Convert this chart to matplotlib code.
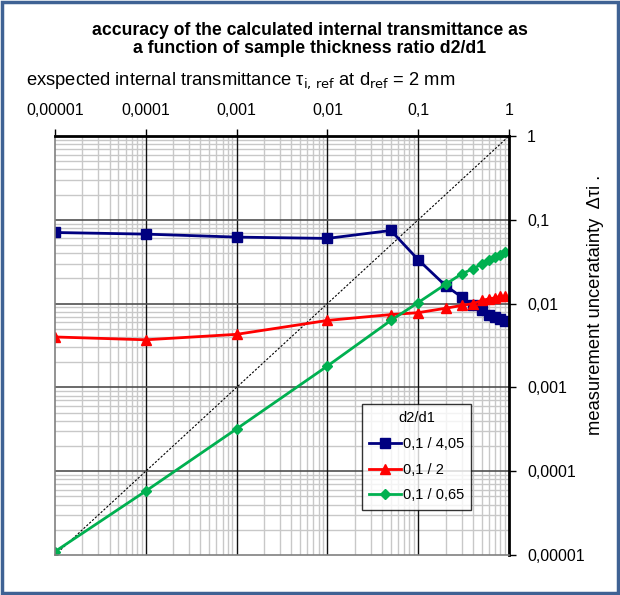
import numpy as np
import matplotlib
matplotlib.use('Agg')
import matplotlib.pyplot as plt
from matplotlib.patches import Rectangle
from matplotlib.ticker import FixedLocator, FixedFormatter, LogLocator, NullFormatter

plt.rcParams['font.family'] = ['Liberation Sans', 'DejaVu Sans']

# data
x_blue = [1e-5, 1e-4, 1e-3, 1e-2, 0.05, 0.1, 0.2, 0.3, 0.4, 0.5, 0.6, 0.7, 0.8, 0.9]
y_blue = [0.0706, 0.0675, 0.0622, 0.060, 0.0746, 0.0334, 0.0164, 0.012, 0.0095,
          0.0083, 0.0074, 0.0069, 0.0066, 0.0062]

x_red = [1e-5, 1e-4, 1e-3, 1e-2, 0.05, 0.1, 0.2, 0.3, 0.4, 0.5, 0.6, 0.7, 0.8, 0.9]
y_red = [0.0040, 0.0037, 0.0043, 0.0063, 0.0074, 0.0078, 0.0088, 0.0095, 0.0100,
         0.0109, 0.0114, 0.0117, 0.0122, 0.0122]

x_green = [1e-5, 1e-4, 1e-3, 1e-2, 0.05, 0.1, 0.2, 0.3, 0.4, 0.5, 0.6, 0.7, 0.8, 0.9]
y_green = [1.1e-5, 5.8e-5, 3.2e-4, 1.8e-3, 6.3e-3, 0.0103, 0.017, 0.0226, 0.026,
           0.0297, 0.0327, 0.036, 0.038, 0.041]

labels = ['0,1 / 4,05', '0,1 / 2', '0,1 / 0,65']
tick_vals = [1e-5, 1e-4, 1e-3, 1e-2, 1e-1, 1]
tick_labels = ['0,00001', '0,0001', '0,001', '0,01', '0,1', '1']

fig = plt.figure(figsize=(6.2, 5.95), dpi=100)
ax = fig.add_axes([0.0887, 0.0672, 0.7323, 0.7042])

ax.set_xscale('log')
ax.set_yscale('log')
ax.set_xlim(1e-5, 1)
ax.set_ylim(1e-5, 1)

# minor grid from the axis, major lines drawn on top of it
ax.xaxis.set_minor_locator(LogLocator(base=10, subs=np.arange(2, 10)))
ax.yaxis.set_minor_locator(LogLocator(base=10, subs=np.arange(2, 10)))
ax.xaxis.set_minor_formatter(NullFormatter())
ax.yaxis.set_minor_formatter(NullFormatter())
ax.grid(True, which='minor', color='#c8c8c8', linewidth=1.0)
ax.grid(False, which='major')
ax.set_axisbelow(True)
for v in tick_vals[1:-1]:
    ax.axvline(v, color='#101010', linewidth=1.0, zorder=0.8)
    ax.axhline(v, color='#505050', linewidth=1.2, zorder=0.8)

# diagonal reference
ax.plot([1e-5, 1], [1e-5, 1], color='black', linestyle=(0, (2, 1.5)), linewidth=0.8, zorder=1)

ax.plot(x_blue, y_blue, '-s', color='#000080', linewidth=2, markersize=6.5, label=labels[0])
ax.plot(x_red, y_red, '-^', color='#ff0000', linewidth=2, markersize=7.5, label=labels[1])
ax.plot(x_green, y_green, '-D', color='#00b050', linewidth=2, markersize=5.5, label=labels[2])

ax.xaxis.set_major_locator(FixedLocator(tick_vals))
ax.xaxis.set_major_formatter(FixedFormatter(tick_labels))
ax.yaxis.set_major_locator(FixedLocator(tick_vals))
ax.yaxis.set_major_formatter(FixedFormatter(tick_labels))
ax.xaxis.tick_top()
ax.yaxis.tick_right()
ax.tick_params(which='major', length=5, width=1, labelsize=11.5, pad=8)
ax.tick_params(which='minor', length=0)

for side in ['top', 'right']:
    ax.spines[side].set_linewidth(2)
    ax.spines[side].set_color('black')
for side in ['left', 'bottom']:
    ax.spines[side].set_linewidth(1.2)
    ax.spines[side].set_color('#808080')

ax.yaxis.set_label_position('right')
ax.set_ylabel('measurement unceratainty  \u0394\u03c4i .', fontsize=13.2)
ax.yaxis.set_label_coords(1.172, 0.597)

leg = ax.legend(title='d2/d1', loc='upper left', bbox_to_anchor=(0.676, 0.360),
                borderaxespad=0, fontsize=10.5, title_fontsize=10.5, frameon=True,
                fancybox=False, edgecolor='black', handlelength=2.2, handletextpad=0.1,
                borderpad=0.5, labelspacing=0.8)
leg.get_frame().set_linewidth(1)

fig.text(0.5, 0.934, 'accuracy of the calculated internal transmittance as\na function of sample thickness ratio d2/d1',
         ha='center', va='center', fontsize=12.7, fontweight='bold', linespacing=1.05)
fig.text(0.042, 0.865, 'exspected internal transmittance \u03c4$_{\\mathrm{i,\\,ref}}$ at d$_{\\mathrm{ref}}$ = 2 mm',
         ha='left', va='center', fontsize=13.2)

fig.patches.append(Rectangle((0.004, 0.004), 0.992, 0.992, transform=fig.transFigure,
                             fill=False, edgecolor='#3f6294', linewidth=2.5))

fig.savefig('out.png', dpi=100)
